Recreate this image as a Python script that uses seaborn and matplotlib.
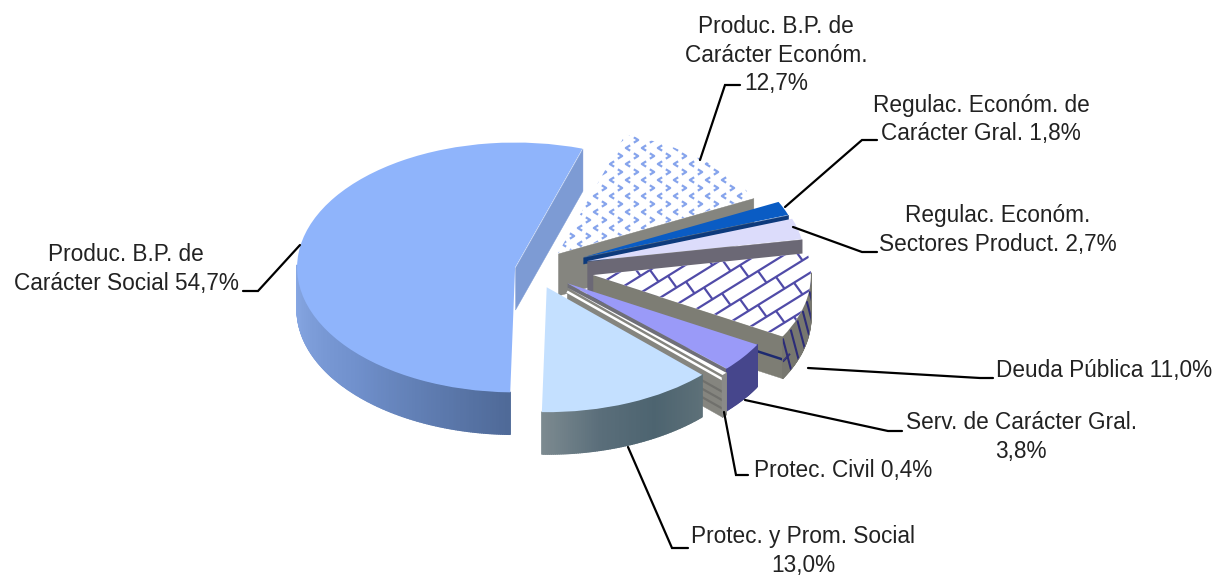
import numpy as np
import matplotlib
matplotlib.use("Agg")
import matplotlib.pyplot as plt
from matplotlib.collections import PolyCollection, LineCollection
from matplotlib.patches import Polygon
from matplotlib.path import Path
import seaborn as sns

# ---- data ----
categories = ["Produc. B.P. de Carácter Social", "Protec. y Prom. Social", "Protec. Civil",
              "Serv. de Carácter Gral.", "Deuda Pública", "Regulac. Económ. Sectores Product.",
              "Regulac. Económ. de Carácter Gral.", "Produc. B.P. de Carácter Económ."]
values = [54.7, 13.0, 0.4, 3.8, 11.0, 2.7, 1.8, 12.7]
labels = ["Produc. B.P. de\nCarácter Social 54,7%", "Protec. y Prom. Social\n13,0%", "Protec. Civil 0,4%",
          "Serv. de Carácter Gral.\n3,8%", "Deuda Pública 11,0%", "Regulac. Económ.\nSectores Product. 2,7%",
          "Regulac. Económ. de\nCarácter Gral. 1,8%", "Produc. B.P. de\nCarácter Económ.\n12,7%"]

# ---- style ----
explode = [0.088, 0.155, 0.21, 0.19, 0.274, 0.252, 0.245, 0.168]
top_colors = ["#8fb4fb", "#c4e0ff", "#ffffff", "#9a9af8", "#ffffff", "#dcdcfb", "#0a5cc4", "#ffffff"]
side_ramps = [["#8aaae6", "#7090cc", "#4f6a98"], ["#7c8a90", "#5a6e7a", "#4d6470", "#5d7078"], ["#8a8a88", "#8a8a88"],
              ["#46468c", "#46468c"], ["#77776f", "#77776f"], ["#6a6874", "#6a6874"], ["#0a3f8a", "#0a3f8a"],
              ["#85857f", "#85857f"]]
wall_colors = ["#7d9bd4", "#5f7480", "#85857f", "#6f6f78", "#7d7d74", "#6b6875", "#0d3a7c", "#85857f"]
wall_depth = [1, 1, 1, 1, 1, 1, 0.15, 1]
R, SQ, DEPTH, CX, CY = 218, 0.573, 42, 534, 269.3
W, H = 1216, 577

sns.set_theme(style="white")
plt.rcParams["font.family"] = ["Liberation Sans", "DejaVu Sans"]
fig = plt.figure(figsize=(W / 100, H / 100), dpi=100)
ax = fig.add_axes([0, 0, 1, 1])

def Y(py):
    return (H - py) / SQ

dz = DEPTH / SQ
wedges, _ = ax.pie(values, explode=[e * R for e in explode], radius=R, center=(CX, Y(CY)), startangle=72,
                   counterclock=True, colors=top_colors, frame=True, wedgeprops=dict(linewidth=0))
ax.set_aspect("auto")
ax.set_xlim(0, W)
ax.set_ylim(0, H / SQ)
ax.axis("off")

order = [7, 6, 5, 4, 3, 2, 1, 0]   # back to front
for z, i in enumerate(order):
    w = wedges[i]
    cx, cy = w.center
    t1, t2 = w.theta1, w.theta2
    base = 10 + z * 10
    # radial walls that face the viewer
    for th, sign in ((t1, 1), (t2, -1)):
        c = np.cos(np.radians(th))
        if sign * c > 0.05:
            ex, ey = cx + R * c, cy + R * np.sin(np.radians(th))
            d = dz * wall_depth[i]
            poly = [(cx, cy), (ex, ey), (ex, ey - d), (cx, cy - d)]
            ax.add_collection(PolyCollection([poly], facecolors=wall_colors[i], edgecolors=wall_colors[i],
                                             linewidths=0.3, zorder=base))
            if i == 4:
                ax.add_collection(LineCollection([[(cx, cy - dz * .55), (ex, ey - dz * .55)]], colors="#1d2a70",
                                                 linewidths=1.8, zorder=base + 1))
            if i == 2:
                ax.add_collection(LineCollection([[(cx, cy - dz * .1), (ex, ey - dz * .1)]], colors="#ffffff",
                                                 linewidths=1.8, zorder=base + 1))
                ax.add_collection(LineCollection([[(cx, cy - dz * k), (ex, ey - dz * k)] for k in (.4, .6, .8)],
                                                 colors="#70706c", linewidths=1.6, zorder=base + 1))
    # outer rim, shaded strip by strip
    a = np.radians(np.linspace(t1, t2, max(3, int((t2 - t1) * 2))))
    a = a[np.sin(a) < 0.02]
    if a.size > 1:
        ramp = sns.blend_palette(side_ramps[i], n_colors=a.size - 1)
        polys = []
        for p, q in zip(a[:-1], a[1:]):
            x1, y1 = cx + R * np.cos(p), cy + R * np.sin(p)
            x2, y2 = cx + R * np.cos(q), cy + R * np.sin(q)
            polys.append([(x1, y1), (x2, y2), (x2, y2 - dz), (x1, y1 - dz)])
        ax.add_collection(PolyCollection(polys, facecolors=ramp, edgecolors=ramp, linewidths=1.0, zorder=base + 2))
        if i == 4:  # brick pattern running over the rim, clipped to the rim
            rx, ry = cx + R * np.cos(a), cy + R * np.sin(a)
            outline = np.r_[np.c_[rx, ry], np.c_[rx, ry - dz][::-1]]
            clip = Polygon(outline, closed=True, transform=ax.transData, facecolor="none", edgecolor="none")
            ax.add_patch(clip)
            segs = [[(x, y - dz * .05), (x + 10, y - dz * .95)] for x, y in zip(rx[::9], ry[::9])]
            segs += [[(x1, y1 - dz * .6), (x2, y2 - dz * .6)] for x1, y1, x2, y2 in
                     zip(rx[:8], ry[:8], rx[1:9], ry[1:9])]
            lc = LineCollection(segs, colors="#2c2c78", linewidths=1.5, zorder=base + 3)
            ax.add_collection(lc)
            lc.set_clip_path(clip)
    w.set_zorder(base + 4)

    # textures clipped to the top face
    if i == 7:  # chevrons
        left = Path([(0.8, -1), (-0.8, 0), (0.8, 1)], [Path.MOVETO, Path.LINETO, Path.LINETO])
        right = Path([(-0.8, -1), (0.8, 0), (-0.8, 1)], [Path.MOVETO, Path.LINETO, Path.LINETO])
        for start, m in ((0, right), (8, left)):
            gx, gy = np.meshgrid(np.arange(540 + start, 790, 16), np.arange(124 + start, 300, 16))
            sc = ax.scatter(gx.ravel(), Y(gy.ravel()), marker=m, s=15, facecolors="none", edgecolors="#86a4ec",
                            linewidths=1.6, zorder=base + 5)
            sc.set_clip_path(w)
    if i == 4:  # skewed bricks
        segs = []
        for k, off in enumerate(np.arange(-170, 230, 17)):
            xs = np.array([570, 830])
            ys = 290 + off - (xs - 700) * 0.62
            segs.append([(xs[0], Y(ys[0])), (xs[1], Y(ys[1]))])
            for x0 in np.arange(560 + (k % 2) * 18, 830, 36):
                y0 = 290 + off - (x0 - 700) * 0.62
                segs.append([(x0, Y(y0)), (x0 + 8.5, Y(y0 + 17 - 8.5 * 0.62))])
        lc = LineCollection(segs, colors="#504ba8", linewidths=1.6, zorder=base + 5)
        ax.add_collection(lc)
        lc.set_clip_path(w)

# ---- labels and elbow leaders, in picture pixels ----
ov = fig.add_axes([0, 0, 1, 1], facecolor="none")
ov.set_xlim(0, W)
ov.set_ylim(H, 0)
ov.axis("off")
leaders = [[(300, 245), (258, 291), (243, 291)], [(628, 447), (672, 548), (688, 548)],
           [(724, 412), (736, 475), (748, 475)], [(745, 400), (888, 431), (902, 431)],
           [(808, 368), (980, 378), (993, 378)], [(793, 227), (862, 252), (877, 252)],
           [(785, 207), (862, 140), (877, 140)], [(700, 160), (725, 85), (740, 85)]]
label_pos = [(126, 269), (803, 551), (843, 471), (1021, 437), (1104, 371), (998, 230), (981, 119.5), (776, 55)]
for pts, (tx, ty), lab in zip(leaders, label_pos, labels):
    ov.plot(*zip(*pts), color="black", lw=1.6, solid_joinstyle="miter")
    ov.text(tx, ty, lab, ha="center", va="center", fontsize=16.3, color="#222222", linespacing=1.3)

fig.savefig("out.png", dpi=100)
